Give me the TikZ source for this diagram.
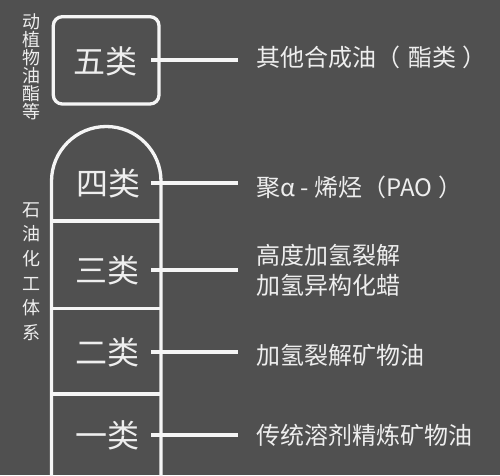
\documentclass[tikz,border=0pt]{standalone}
\usepackage{fontspec}
\newfontfamily\cjk{Noto Sans CJK SC}
\definecolor{bg}{RGB}{80,80,80}
\definecolor{ln}{RGB}{245,245,245}
\definecolor{tx}{RGB}{238,238,238}
\begin{document}
\begin{tikzpicture}[x=1pt,y=1pt,
  frame/.style={draw=ln,line width=3.3pt},
  link/.style={draw=ln,line width=3.3pt},
  cls/.style={font=\cjk\fontsize{32}{32}\selectfont,text=tx,inner sep=0pt},
  desc/.style={font=\cjk\fontsize{24}{30}\selectfont,text=tx,inner sep=0pt,anchor=west},
  vertA/.style={font=\cjk\fontsize{18}{18}\selectfont,text=tx,inner sep=0pt,align=center},
  vertB/.style={font=\cjk\fontsize{18}{24.6}\selectfont,text=tx,inner sep=0pt,align=center}]
\fill[bg] (0,0) rectangle (500,475);
\useasboundingbox (0,0) rectangle (500,475);
% box five
\draw[frame,rounded corners=9pt] (53.3,371) rectangle (159,458.3);
% tower
\draw[frame] (51.5,-10) -- (51.5,293.75) arc[start angle=180,end angle=0,radius=54.75pt] -- (161,-10);
\draw[frame] (51.5,254) -- (161,254);
\draw[frame] (51.5,166.5) -- (161,166.5);
\draw[frame] (51.5,81) -- (161,81);
% class labels
\node[cls] (k5) at (105,414) {五类};
\node[cls] (k4) at (108,292) {四类};
\node[cls] (k3) at (107.5,205) {三类};
\node[cls] (k2) at (107.5,123) {二类};
\node[cls] (k1) at (107,40) {一类};
% vertical labels
\node[vertA] (v1) at (31.5,408.5) {动\\植\\物\\油\\酯\\等};
\node[vertB] (v2) at (31.5,203.5) {石\\油\\化\\工\\体\\系};
% descriptions
\node[desc] (d5) at (256,417.5) {其他合成油（\hspace{8pt}酯类\hspace{6pt}）};
\node[desc] (d4) at (256,288) {聚α - 烯烃（PAO\hspace{6pt}）};
\node[desc,align=left] (d3) at (256,205) {高度加氢裂解\\加氢异构化蜡};
\node[desc] (d2) at (256,119.5) {加氢裂解矿物油};
\node[desc] (d1) at (256,40) {传统溶剂精炼矿物油};
% connectors
\coordinate (s5) at (151,415); \coordinate (e5) at (238,415);
\coordinate (s4) at (151,292); \coordinate (e4) at (238,292);
\coordinate (s3) at (151,205); \coordinate (e3) at (238,205);
\coordinate (s2) at (151,123); \coordinate (e2) at (238,123);
\coordinate (s1) at (151,40); \coordinate (e1) at (238,40);
\draw[link] (s5) -- (e5);
\draw[link] (s4) -- (e4);
\draw[link] (s3) -- (e3);
\draw[link] (s2) -- (e2);
\draw[link] (s1) -- (e1);
\end{tikzpicture}
\end{document}
